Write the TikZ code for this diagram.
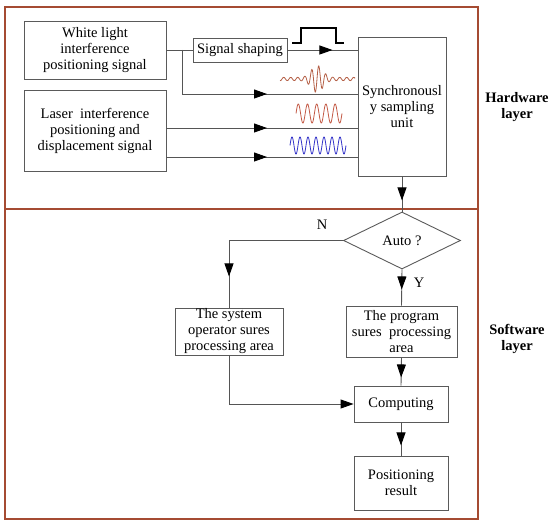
\documentclass[tikz,border=0pt]{standalone}
\usepackage{fontspec}
\setmainfont{Liberation Serif}
\usetikzlibrary{arrows.meta,decorations.markings,shapes.geometric}
\definecolor{framec}{RGB}{165,75,50}
\definecolor{linec}{RGB}{85,85,85}
\definecolor{boxc}{RGB}{90,90,90}
\definecolor{wbrown}{RGB}{180,95,70}
\definecolor{wred}{RGB}{195,90,70}
\definecolor{wblue}{RGB}{50,50,200}
\begin{document}
\begin{tikzpicture}[x=1pt,y=-1pt,
  box/.style={draw=boxc, line width=0.9pt, align=center, inner sep=0pt, font=\fontsize{14.5}{16}\selectfont},
  conn/.style={draw=linec, line width=0.9pt},
  marr/.style={postaction={decorate,decoration={markings,mark=at position #1 with {\arrow{Triangle[length=13pt,width=9pt,color=black]}}}}},
  endarr/.style={-{Triangle[length=13pt,width=9pt,color=black]}},
  lab/.style={font=\fontsize{14.5}{16}\selectfont\bfseries, align=center},
  txt/.style={font=\fontsize{14.5}{16}\selectfont}
]
\useasboundingbox (0,0) rectangle (550,527);
% frame
\draw[framec, line width=1.4pt] (5,7) rectangle (478,519);
\draw[framec, line width=1.4pt] (5,209) -- (478,209);
\node[lab] (hw) at (517,107) {Hardware\\layer};
\node[lab] (sw) at (517,339) {Software\\layer};
% hardware boxes
\node[box, minimum width=142, minimum height=58] (wl) at (95,50) {White light\\interference\\positioning signal};
\node[box, minimum width=142, minimum height=81] (la) at (95,130.5) {Laser\ \ interference\\positioning and\\displacement signal};
\node[box, minimum width=94, minimum height=24] (sh) at (240,50) {Signal shaping};
\node[box, minimum width=88, minimum height=139] (sy) at (402,106.5) {Synchronousl\\y sampling\\unit};
% connectors hardware
\coordinate (br) at (182,50);
\coordinate (br2) at (182,94);
\coordinate (l1) at (166,128);
\coordinate (l2) at (166,157);
\draw[conn] (wl.east) -- (sh.west);
\draw[conn, marr=129pt] (br) -- (br2) -- (br2 -| sy.west);
\draw[conn, marr=45pt] (sh.east) -- (sh.east -| sy.west);
\draw[conn, marr=101pt] (l1) -- (l1 -| sy.west);
\draw[conn, marr=101pt] (l2) -- (l2 -| sy.west);
% pulse
\draw[black, line width=1.3pt] (292,43) -- (301,43) -- (301,28) -- (336,28) -- (336,43) -- (344,43);
% waveforms
\draw[wbrown, line width=0.8pt, domain=280:355, samples=300, smooth] plot (\x, {79 - (1.6+12*exp(-((\x-317)/8)^2))*sin((360/7)*(\x-317))});
\draw[wred, line width=0.8pt, domain=296:342, samples=200, smooth] plot (\x, {113.5 - 9.5*sin((360/9.2)*(\x-296))});
\draw[wblue, line width=0.8pt, domain=290:346, samples=240, smooth] plot (\x, {145.5 - 8.5*sin((360/8)*(\x-290))});
% software
\node[draw=boxc, line width=0.9pt, diamond, minimum width=117, minimum height=57, inner sep=0pt, txt] (di) at (402,240.5) {Auto ?};
\node[box, minimum width=108, minimum height=47] (sys) at (229,331.5) {The system\\operator sures\\processing area};
\node[box, minimum width=111, minimum height=51] (pr) at (401.5,331.5) {The program\\sures\ \ processing\\area};
\node[box, minimum width=94, minimum height=36] (co) at (401,404) {Computing};
\node[box, minimum width=94, minimum height=54] (re) at (401,483) {Positioning\\result};
\draw[conn, marr=24pt] (sy.south) -- (di.north);
\draw[conn, marr=150pt] (di.west) -| (sys.north);
\draw[conn, marr=20pt] (di.south) -- (pr.north);
\draw[conn, marr=20pt] (pr.south) -- (co.north);
\draw[conn, marr=23pt] (co.south) -- (re.north);
\draw[conn, endarr] (sys.south) |- (co.west);
\node[txt] (nl) at (322,225) {N};
\node[txt] (yl) at (419,283) {Y};
\end{tikzpicture}
\end{document}
